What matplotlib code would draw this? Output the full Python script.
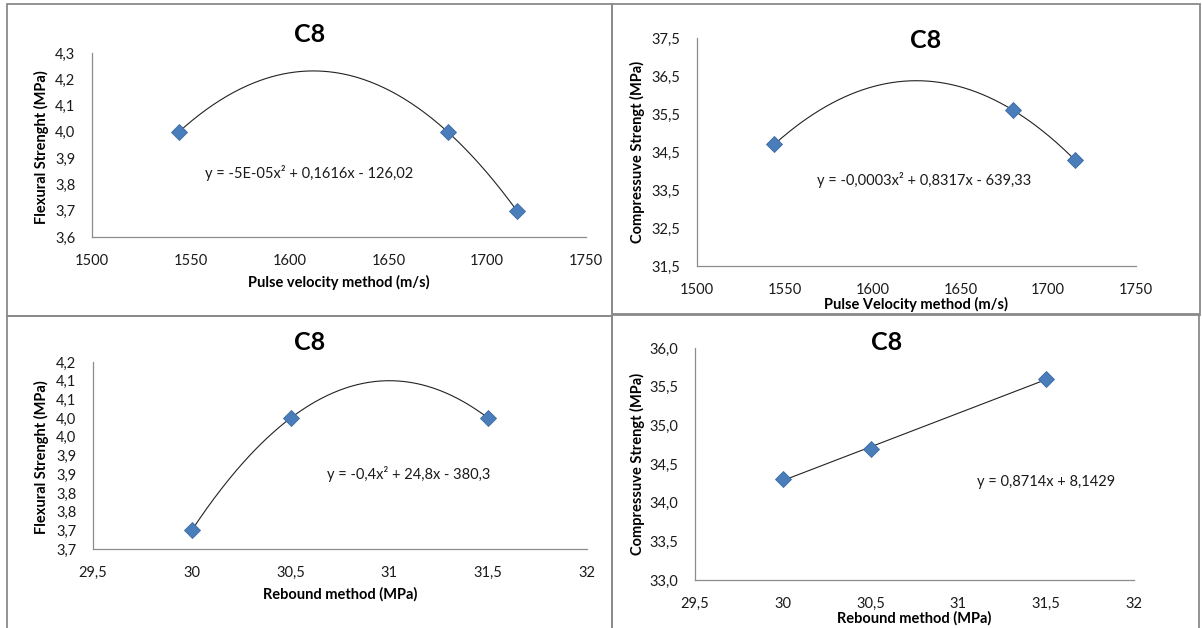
import matplotlib
matplotlib.use('Agg')
import matplotlib.pyplot as plt
from matplotlib.patches import Rectangle
import numpy as np

# ---------------- data ----------------
pv_x = [1544, 1680, 1715]           # pulse velocity (m/s)
pv_flex = [4.0, 4.0, 3.7]           # flexural strength (MPa)
pv_comp = [34.7, 35.6, 34.3]        # compressive strength (MPa)
rb_x = [30.0, 30.5, 31.5]           # rebound (MPa)
rb_flex = [3.7, 4.0, 4.0]
rb_comp = [34.3, 34.7, 35.6]

pv_xticks = [1500, 1550, 1600, 1650, 1700, 1750]
pv_xlabels = ["1500", "1550", "1600", "1650", "1700", "1750"]
rb_xticks = [29.5, 30.0, 30.5, 31.0, 31.5, 32.0]
rb_xlabels = ["29,5", "30", "30,5", "31", "31,5", "32"]

p1_yticks = [3.6, 3.7, 3.8, 3.9, 4.0, 4.1, 4.2, 4.3]
p1_ylabels = ["3,6", "3,7", "3,8", "3,9", "4,0", "4,1", "4,2", "4,3"]
p2_yticks = [31.5, 32.5, 33.5, 34.5, 35.5, 36.5, 37.5]
p2_ylabels = ["31,5", "32,5", "33,5", "34,5", "35,5", "36,5", "37,5"]
p3_yticks = [3.65, 3.70, 3.75, 3.80, 3.85, 3.90, 3.95, 4.00, 4.05, 4.10, 4.15]
p3_ylabels = ["3,7", "3,7", "3,8", "3,8", "3,9", "3,9", "4,0", "4,0", "4,1", "4,1", "4,2"]
p4_yticks = [33.0, 33.5, 34.0, 34.5, 35.0, 35.5, 36.0]
p4_ylabels = ["33,0", "33,5", "34,0", "34,5", "35,0", "35,5", "36,0"]

titles = ["C8", "C8", "C8", "C8"]
xlabels = ["Pulse velocity method (m/s)", "Pulse Velocity method (m/s)",
           "Rebound method (MPa)", "Rebound method (MPa)"]
ylabels = ["Flexural Strenght (MPa)", "Compressuve Strengt (MPa)",
           "Flexural Strenght (MPa)", "Compressuve Strengt (MPa)"]
equations = ["y = -5E-05x² + 0,1616x - 126,02",
             "y = -0,0003x² + 0,8317x - 639,33",
             "y = -0,4x² + 24,8x - 380,3",
             "y = 0,8714x + 8,1429"]

# ---------------- figure ----------------
W, H = 1202, 628
plt.rcParams['font.family'] = ['Lato', 'DejaVu Sans']
fig = plt.figure(figsize=(W / 100, H / 100), dpi=100)

def fx(x):
    return x / W

def fy(y):
    return 1 - y / H

FRAME = '#8a8a8a'
AXC = '#8c8c8c'
MARK = '#4a7ebb'
TXT = '#1a1a1a'

# panel frames (pixel boxes)
frames = [(7, 4, 612, 316), (612, 4, 1200, 315), (7, 316, 612, 660), (612, 314, 1199, 660)]
for (l, t, r, b) in frames:
    fig.add_artist(Rectangle((fx(l), fy(b)), fx(r - l), (b - t) / H,
                             transform=fig.transFigure, fill=False,
                             edgecolor=FRAME, lw=1.3))

panels = [
    dict(box=(92, 53, 586, 237), x=pv_x, y=pv_flex, deg=2, xlim=(1500, 1750), ylim=(3.6, 4.3),
         xt=pv_xticks, xl=pv_xlabels, yt=p1_yticks, yl=p1_ylabels,
         title=(310, 35), eq=(205, 173), xlab=(339, 282), ylab=(41, 147)),
    dict(box=(697, 38, 1136, 266), x=pv_x, y=pv_comp, deg=2, xlim=(1500, 1750), ylim=(31.5, 37.5),
         xt=pv_xticks, xl=pv_xlabels, yt=p2_yticks, yl=p2_ylabels,
         title=(926, 40), eq=(817, 180), xlab=(916, 304), ylab=(637, 152)),
    dict(box=(93, 362, 587, 549), x=rb_x, y=rb_flex, deg=2, xlim=(29.5, 32), ylim=(3.65, 4.15),
         xt=rb_xticks, xl=rb_xlabels, yt=p3_yticks, yl=p3_ylabels,
         title=(310, 343), eq=(327, 474), xlab=(340, 594), ylab=(41, 457)),
    dict(box=(695, 348, 1134, 580), x=rb_x, y=rb_comp, deg=1, xlim=(29.5, 32), ylim=(33.0, 36.0),
         xt=rb_xticks, xl=rb_xlabels, yt=p4_yticks, yl=p4_ylabels,
         title=(887, 342), eq=(977, 482), xlab=(914, 618), ylab=(637, 464)),
]

for i, p in enumerate(panels):
    l, t, r, b = p['box']
    ax = fig.add_axes([fx(l), fy(b), fx(r - l), (b - t) / H])
    ax.set_facecolor('none')
    for s in ['top', 'right']:
        ax.spines[s].set_visible(False)
    for s in ['left', 'bottom']:
        ax.spines[s].set_color(AXC)
        ax.spines[s].set_linewidth(0.9)
    ax.set_xlim(*p['xlim'])
    ax.set_ylim(*p['ylim'])
    ax.set_xticks(p['xt'])
    ax.set_xticklabels(p['xl'])
    ax.set_yticks(p['yt'])
    ax.set_yticklabels(p['yl'])
    ax.tick_params(length=0, labelsize=10.5, colors=TXT)
    ax.tick_params(axis='x', pad=12)
    ax.tick_params(axis='y', pad=12)

    xs = np.array(p['x'], dtype=float)
    ys = np.array(p['y'], dtype=float)
    coef = np.polyfit(xs, ys, p['deg'])
    xx = np.linspace(xs.min(), xs.max(), 200)
    ax.plot(xx, np.polyval(coef, xx), color='#222222', lw=0.8, zorder=2)
    ax.plot(xs, ys, linestyle='none', marker='D', ms=8.5, mfc=MARK,
            mec='#3c6aa3', mew=0.6, zorder=3, clip_on=False)

    fig.text(fx(p['title'][0]), fy(p['title'][1]), titles[i], ha='center', va='center',
             fontsize=18, fontweight='bold', color='black')
    fig.text(fx(p['eq'][0]), fy(p['eq'][1]), equations[i], ha='left', va='center',
             fontsize=10.5, color=TXT)
    fig.text(fx(p['xlab'][0]), fy(p['xlab'][1]), xlabels[i], ha='center', va='center',
             fontsize=10.5, fontweight='bold', color='black')
    fig.text(fx(p['ylab'][0]), fy(p['ylab'][1]), ylabels[i], ha='center', va='center',
             rotation=90, fontsize=10.5, fontweight='bold', color='black')

fig.savefig('out.png', dpi=100, facecolor='white')
